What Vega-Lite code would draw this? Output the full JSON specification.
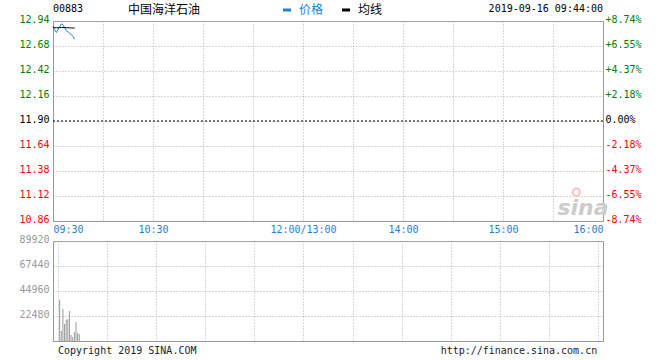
{
  "$schema": "https://vega.github.io/schema/vega-lite/v6.json",
  "background": "white",
  "padding": {"left": 18, "top": 3, "right": 5, "bottom": 3},
  "spacing": 20,
  "bounds": "flush",
  "config": {
    "view": {"stroke": "#999999", "strokeWidth": 1},
    "axis": {
      "labelFont": "DejaVu Sans Mono",
      "labelFontSize": 9.5,
      "labelOverlap": false,
      "ticks": false,
      "domainColor": "#999999",
      "gridColor": "#b0b0b0",
      "gridDash": [1, 2],
      "title": null
    }
  },
  "datasets": {
    "price": [
      {"m": 0, "s": "价格", "v": 12.89}, {"m": 1, "s": "价格", "v": 12.85}, {"m": 2, "s": "价格", "v": 12.82},
      {"m": 3, "s": "价格", "v": 12.85}, {"m": 4, "s": "价格", "v": 12.88}, {"m": 5, "s": "价格", "v": 12.91},
      {"m": 6, "s": "价格", "v": 12.9}, {"m": 7, "s": "价格", "v": 12.87}, {"m": 8, "s": "价格", "v": 12.84},
      {"m": 9, "s": "价格", "v": 12.83}, {"m": 10, "s": "价格", "v": 12.81}, {"m": 11, "s": "价格", "v": 12.8},
      {"m": 12, "s": "价格", "v": 12.78}, {"m": 13, "s": "价格", "v": 12.75},
      {"m": 0, "s": "均线", "v": 12.872}, {"m": 1, "s": "均线", "v": 12.871}, {"m": 2, "s": "均线", "v": 12.87},
      {"m": 3, "s": "均线", "v": 12.87}, {"m": 4, "s": "均线", "v": 12.871}, {"m": 5, "s": "均线", "v": 12.872},
      {"m": 6, "s": "均线", "v": 12.872}, {"m": 7, "s": "均线", "v": 12.871}, {"m": 8, "s": "均线", "v": 12.87},
      {"m": 9, "s": "均线", "v": 12.87}, {"m": 10, "s": "均线", "v": 12.869}, {"m": 11, "s": "均线", "v": 12.868},
      {"m": 12, "s": "均线", "v": 12.867}, {"m": 13, "s": "均线", "v": 12.866}
    ],
    "vol": [
      {"m": 1, "vol": 36870}, {"m": 2, "vol": 8990}, {"m": 3, "vol": 28770}, {"m": 4, "vol": 15290},
      {"m": 5, "vol": 19150}, {"m": 6, "vol": 19780}, {"m": 7, "vol": 26980}, {"m": 8, "vol": 5400},
      {"m": 9, "vol": 3600}, {"m": 10, "vol": 8090}, {"m": 11, "vol": 17350}, {"m": 12, "vol": 7190},
      {"m": 13, "vol": 6290}
    ]
  },
  "vconcat": [
    {
      "width": 550,
      "height": 200,
      "layer": [
        {
          "data": {"name": "price"},
          "mark": {"type": "line", "strokeWidth": 1},
          "encoding": {
            "x": {
              "field": "m", "type": "quantitative",
              "scale": {"domain": [0, 330], "nice": false, "zero": false},
              "axis": {
                "values": [0, 30, 60, 90, 120, 150, 180, 210, 240, 270, 300, 330],
                "labelExpr": "datum.value==0?'09:30':datum.value==60?'10:30':datum.value==150?'12:00/13:00':datum.value==210?'14:00':datum.value==270?'15:00':datum.value==330?'16:00':''",
                "labelFlush": true,
                "labelOverlap": false,
                "labelColor": "#1e80d0",
                "labelFontSize": 10,
                "labelPadding": 3,
                "grid": true
              }
            },
            "y": {
              "field": "v", "type": "quantitative",
              "scale": {"domain": [10.86, 12.94], "nice": false, "zero": false},
              "axis": {
                "values": [10.86, 11.12, 11.38, 11.64, 11.9, 12.16, 12.42, 12.68, 12.94],
                "format": ".2f",
                "labelOverlap": false,
                "labelColor": {"condition": [{"test": "datum.value > 11.905", "value": "#008000"}, {"test": "datum.value < 11.895", "value": "#ff0000"}], "value": "#000000"},
                "labelBaseline": "alphabetic",
                "labelOffset": 1,
                "labelPadding": 4,
                "labelFontSize": 10,
                "grid": true
              }
            },
            "color": {
              "field": "s", "type": "nominal",
              "scale": {"domain": ["价格", "均线"], "range": ["#1e80d0", "#000000"]},
              "legend": {
                "orient": "none",
                "legendX": 228,
                "legendY": -17,
                "direction": "horizontal",
                "title": null,
                "symbolType": "stroke",
                "symbolSize": 64,
                "symbolStrokeWidth": 3,
                "labelFont": "Noto Sans CJK SC",
                "labelFontSize": 12,
                "labelOffset": 6,
                "columnPadding": 12,
                "labelColor": {"expr": "datum.label == '价格' ? '#1e80d0' : '#000000'"}
              }
            }
          }
        },
        {
          "data": {"values": [{}]},
          "mark": {"type": "rule", "strokeDash": [2, 2], "color": "#000000", "strokeWidth": 1},
          "encoding": {
            "y": {
              "datum": 11.9, "type": "quantitative",
              "axis": {
                "orient": "right",
                "values": [10.86, 11.12, 11.38, 11.64, 11.9, 12.16, 12.42, 12.68, 12.94],
                "labelExpr": "datum.value > 11.905 ? '+' + format((datum.value-11.9)/11.9*100, '.2f') + '%' : datum.value < 11.895 ? '-' + format((11.9-datum.value)/11.9*100, '.2f') + '%' : '0.00%'",
                "labelOverlap": false,
                "labelColor": {"condition": [{"test": "datum.value > 11.905", "value": "#008000"}, {"test": "datum.value < 11.895", "value": "#ff0000"}], "value": "#000000"},
                "labelBaseline": "alphabetic",
                "labelOffset": 1,
                "labelPadding": 2,
                "labelFontSize": 10,
                "grid": false
              }
            }
          }
        },
        {
          "data": {"values": [{}]},
          "mark": {"type": "text", "text": "sina", "font": "DejaVu Sans", "fontStyle": "italic", "fontWeight": "bold", "fontSize": 22, "color": "#cccccc", "align": "center", "baseline": "middle"},
          "encoding": {
            "x": {"datum": 318},
            "y": {"datum": 11.0, "type": "quantitative", "axis": null}
          }
        },
        {
          "data": {"values": [{}]},
          "mark": {"type": "point", "shape": "circle", "size": 50, "color": "#f3a6a6", "strokeWidth": 2, "filled": false},
          "encoding": {
            "x": {"datum": 314},
            "y": {"datum": 11.16, "type": "quantitative", "axis": null}
          }
        },
        {
          "data": {"values": [{}]},
          "mark": {"type": "text", "text": "00883", "font": "DejaVu Sans Mono", "fontSize": 10, "color": "#000000", "align": "left", "baseline": "middle"},
          "encoding": {
            "x": {"datum": 0},
            "y": {"datum": 13.062, "type": "quantitative", "axis": null}
          }
        },
        {
          "data": {"values": [{}]},
          "mark": {"type": "text", "text": "中国海洋石油", "font": "Noto Sans CJK SC", "fontSize": 12, "color": "#000000", "align": "left", "baseline": "middle"},
          "encoding": {
            "x": {"datum": 45},
            "y": {"datum": 13.055, "type": "quantitative", "axis": null}
          }
        },
        {
          "data": {"values": [{}]},
          "mark": {"type": "text", "text": "2019-09-16 09:44:00", "font": "DejaVu Sans Mono", "fontSize": 10, "color": "#000000", "align": "right", "baseline": "middle"},
          "encoding": {
            "x": {"datum": 330},
            "y": {"datum": 13.062, "type": "quantitative", "axis": null}
          }
        }
      ],
      "resolve": {"axis": {"y": "independent"}}
    },
    {
      "width": 550,
      "height": 100,
      "layer": [
        {
          "data": {"name": "vol"},
          "mark": {"type": "bar", "size": 1, "color": "#999999"},
          "encoding": {
            "x": {
              "field": "m", "type": "quantitative",
              "scale": {"domain": [0, 330], "nice": false, "zero": false},
              "axis": {
                "values": [0, 30, 60, 90, 120, 150, 180, 210, 240, 270, 300, 330],
                "labels": false,
                "grid": true
              }
            },
            "y": {
              "field": "vol", "type": "quantitative",
              "scale": {"domain": [0, 89920], "nice": false},
              "axis": {
                "values": [0, 22480, 44960, 67440, 89920],
                "labelExpr": "datum.value == 0 ? '' : format(datum.value, 'd')",
                "labelOverlap": false,
                "labelColor": "#999999",
                "labelBaseline": "alphabetic",
                "labelOffset": 1,
                "labelPadding": 4,
                "labelFontSize": 10,
                "grid": true
              }
            }
          }
        },
        {
          "data": {"values": [{}]},
          "mark": {"type": "text", "text": "Copyright 2019 SINA.COM", "font": "DejaVu Sans Mono", "fontSize": 10, "color": "#222222", "align": "left", "baseline": "middle"},
          "encoding": {
            "x": {"datum": 0, "type": "quantitative", "axis": null},
            "y": {"datum": -9000, "type": "quantitative", "axis": null}
          }
        },
        {
          "data": {"values": [{}]},
          "mark": {"type": "text", "text": "http://finance.sina.com.cn", "font": "DejaVu Sans Mono", "fontSize": 10, "color": "#222222", "align": "right", "baseline": "middle"},
          "encoding": {
            "x": {"datum": 329.5, "type": "quantitative", "axis": null},
            "y": {"datum": -9000, "type": "quantitative", "axis": null}
          }
        }
      ],
      "resolve": {"axis": {"x": "independent", "y": "independent"}}
    }
  ]
}
